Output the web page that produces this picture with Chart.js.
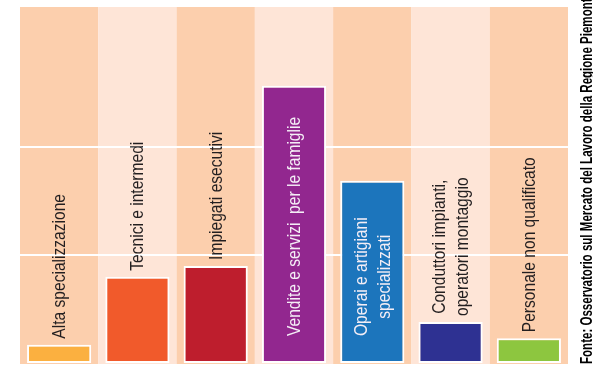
<!DOCTYPE html>
<html>
<head>
<meta charset="utf-8">
<script src="https://cdn.jsdelivr.net/npm/chart.js@4/dist/chart.umd.min.js"></script>
<style>
  html, body { margin: 0; padding: 0; background: #fff; }
  #chart { display: block; }
</style>
</head>
<body>
<canvas id="chart" width="593" height="365"></canvas>
<script>
// data (share of hires by professional group)
const categories = [
    ['Alta specializzazione'],
    ['Tecnici e intermedi'],
    ['Impiegati esecutivi'],
    ['Vendite e servizi  per le famiglie'],
    ['Operai e artigiani', 'specializzati'],
    ['Conduttori impianti,', 'operatori montaggio'],
    ['Personale non qualificato']
];
const values = [1.7, 8.0, 9.0, 25.7, 16.9, 3.8, 2.3];
const barColors = ['#fbb040', '#f15a2b', '#be1e2d', '#92278f', '#1c75bc', '#2e3192', '#8dc63f'];
const labelInside = [false, false, false, true, true, false, false];
const gridTicks = [10, 20];
const axisMax = 33;
const sourceText = 'Fonte: Osservatorio sul Mercato del Lavoro della Regione Piemonte';

const stripeColors = ['#fccfad', '#fee5d7'];
// no narrow face installed, so the regular one is squeezed along the text
const labelFont = '19px "Liberation Sans", Arial, sans-serif';
const narrow = 0.82;

// alternating column stripes, behind the grid
const stripes = {
    id: 'stripes',
    beforeDraw(chart) {
        const ctx = chart.ctx;
        const area = chart.chartArea;
        const x = chart.scales.x;
        const w = (area.right - area.left) / categories.length;
        ctx.save();
        for (let i = 0; i < categories.length; i++) {
            const cx = x.getPixelForValue(i);
            ctx.fillStyle = stripeColors[i % 2];
            ctx.fillRect(cx - w / 2, area.top, w, area.bottom - area.top + 1);
        }
        ctx.restore();
    }
};

// rotated category names, above the short bars or inside the tall ones
const barLabels = {
    id: 'barLabels',
    afterDatasetsDraw(chart) {
        const ctx = chart.ctx;
        const meta = chart.getDatasetMeta(0);
        ctx.save();
        ctx.font = labelFont;
        meta.data.forEach(function (bar, i) {
            const lines = categories[i];
            const inside = labelInside[i];
            const startY = inside ? bar.base - 27 : bar.y - 6;
            ctx.save();
            ctx.translate(bar.x, startY);
            ctx.rotate(-Math.PI / 2);
            ctx.scale(narrow, 1);
            ctx.fillStyle = inside ? '#f4eef6' : '#231f20';
            ctx.textBaseline = 'alphabetic';
            if (lines.length == 1) {
                ctx.textAlign = 'left';
                ctx.fillText(lines[0], 0, 6);
            } else {
                let maxLen = 0;
                lines.forEach(function (l) { maxLen = Math.max(maxLen, ctx.measureText(l).width); });
                ctx.textAlign = 'center';
                lines.forEach(function (l, k) {
                    ctx.fillText(l, maxLen / 2, 6 - (lines.length - 1) * 11.5 + k * 23);
                });
            }
            ctx.restore();
        });
        ctx.restore();
    },
    afterDraw(chart) {
        const ctx = chart.ctx;
        ctx.save();
        ctx.translate(592, 364);
        ctx.rotate(-Math.PI / 2);
        ctx.font = 'bold 16px "Liberation Sans", Arial, sans-serif';
        const w = ctx.measureText(sourceText).width;
        ctx.scale(372 / w, 1);
        ctx.fillStyle = '#000';
        ctx.textAlign = 'left';
        ctx.textBaseline = 'alphabetic';
        ctx.fillText(sourceText, 0, 0);
        ctx.restore();
    }
};

new Chart(document.getElementById('chart').getContext('2d'), {
    type: 'bar',
    data: {
        labels: categories,
        datasets: [{
            data: values,
            backgroundColor: barColors,
            borderColor: '#ffffff',
            borderWidth: 2,
            borderSkipped: false,
            barPercentage: 0.82,
            categoryPercentage: 1
        }]
    },
    options: {
        responsive: false,
        animation: false,
        layout: { padding: { left: 20, right: 25, top: 7, bottom: 2 } },
        plugins: {
            legend: { display: false },
            tooltip: { enabled: false }
        },
        scales: {
            x: { display: false },
            y: {
                min: 0,
                max: axisMax,
                afterBuildTicks(scale) {
                    scale.ticks = gridTicks.map(function (v) { return { value: v }; });
                },
                ticks: { display: false },
                border: { display: false },
                grid: { color: '#ffffff', lineWidth: 2, drawTicks: false }
            }
        }
    },
    plugins: [stripes, barLabels]
});
</script>
</body>
</html>
